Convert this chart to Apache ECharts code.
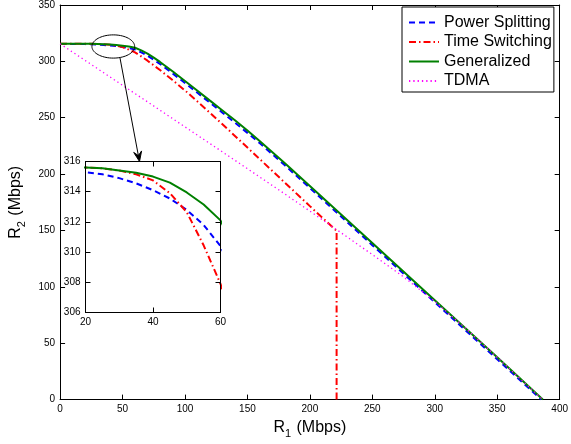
<!DOCTYPE html>
<html><head><meta charset="utf-8">
<script src="https://cdn.jsdelivr.net/npm/echarts@6/dist/echarts.min.js"></script>
<style>html,body{margin:0;padding:0;background:#fff}#c{width:571px;height:444px}</style>
</head><body><div id="c"></div>
<script>
// ---- data (R1, R2) in Mbps ----
const seriesNames = ['Power Splitting', 'Time Switching', 'Generalized', 'TDMA'];
const powerSplitting = [[0,315.5],[10,315.45],[20,315.3],[25,315.15],[30,314.9],[35,314.55],[40,314.1],[45,313.55],[50,312.8],[55,311.8],[60,310.4],[65,308.0],[70,305.0],[75,301.5],[80,297.7],[90,289.4],[100,280.8],[110,272.1],[120,263.3],[130,254.5],[140,245.6],[150,236.6],[160,227.3],[170,217.6],[180,207.8],[200,187.6],[250,137.0],[300,86.4],[350,35.8],[385.4,0]];
const timeSwitching = [[0,315.6],[10,315.6],[20,315.6],[25,315.55],[30,315.4],[35,315.15],[40,314.75],[45,313.9],[50,312.65],[55,310.45],[60,307.9],[65,304.4],[70,300.6],[80,292.3],[90,283.4],[100,274.2],[110,264.4],[120,254.4],[130,244.2],[140,233.9],[160,213.2],[180,192.4],[200,171.6],[221.4,149.6],[221.4,0]];
const generalized = [[0,315.6],[10,315.6],[20,315.6],[25,315.55],[30,315.4],[35,315.25],[40,315.0],[45,314.6],[50,313.95],[55,313.15],[60,312.1],[65,309.8],[70,306.8],[75,303.3],[80,299.5],[90,291.2],[100,282.6],[110,274.0],[120,265.2],[130,256.5],[140,247.8],[150,238.7],[160,229.2],[170,219.5],[180,209.6],[200,189.4],[250,138.8],[300,88.2],[350,37.6],[386.5,0]];
const tdma = [[0,315.6],[25,297.2],[50,278.8],[75,260.4],[100,241.9],[125,223.4],[150,204.8],[175,186.1],[200,167.2],[225,148.0],[250,128.6],[275,108.8],[300,87.2],[325,63.0],[350,37.5],[375,11.8],[386.5,0]];

// axis ranges
const mainX = {min: 0, max: 400, interval: 50};
const mainY = {min: 0, max: 350, interval: 50};
const insetX = {min: 20, max: 60, interval: 20};
const insetY = {min: 306, max: 316, interval: 2};

// zoom annotation (data units of main axes / inset axes)
const zoomCenter = [42.6, 313.2];
const zoomRadius = [17.1, 10.3];
const arrowTarget = [36, 316];

const FONT = 'Liberation Sans, Arial, sans-serif';
const colors = ['#0000ff', '#ff0000', '#008000', '#ff00ff'];
const lineStyles = [
  {width: 2, type: [6, 4]},
  {width: 2, type: [7, 3, 1.5, 3]},
  {width: 2, type: 'solid'},
  {width: 1.3, type: [1.3, 3]}
];
const dataSets = [powerSplitting, timeSwitching, generalized, tdma];

const chart = echarts.init(document.getElementById('c'), null, {renderer: 'canvas'});

function axisBase(range, grid, pos, showLabel, z) {
  return {
    type: 'value', gridIndex: grid, position: pos, z: z,
    min: range.min, max: range.max, interval: range.interval,
    axisLine: {show: true, onZero: false, lineStyle: {color: '#000', width: 1, opacity: 1}},
    axisTick: {show: true, inside: true, length: 5, lineStyle: {color: '#000', width: 1}},
    axisLabel: {show: showLabel, color: '#000', fontSize: 10, fontFamily: FONT, margin: 5},
    splitLine: {show: false}
  };
}

const nameRich = {rich: {a: {fontSize: 16, fontFamily: FONT, color: '#000'}, s: {fontSize: 11, fontFamily: FONT, color: '#000', padding: [12, 1, 0, 0]}}};
const xAxes = [
  Object.assign(axisBase(mainX, 0, 'bottom', true, 1), {
    name: '{a|R}{s|1}{a| (Mbps)}', nameLocation: 'middle', nameGap: 13, nameTextStyle: nameRich
  }),
  axisBase(mainX, 0, 'top', false, 1),
  axisBase(insetX, 1, 'bottom', true, 8),
  axisBase(insetX, 1, 'top', false, 8)
];
const yAxes = [
  Object.assign(axisBase(mainY, 0, 'left', true, 1), {
    name: '{a|R}{s|2}{a| (Mbps)}', nameLocation: 'middle', nameGap: 31, nameTextStyle: nameRich
  }),
  axisBase(mainY, 0, 'right', false, 1),
  axisBase(insetY, 1, 'left', true, 8),
  axisBase(insetY, 1, 'right', false, 8)
];

const series = [];
dataSets.forEach((d, i) => {
  series.push({name: seriesNames[i], type: 'line', xAxisIndex: 0, yAxisIndex: 0, data: d,
    showSymbol: false, symbol: 'none', smooth: false, clip: true,
    lineStyle: Object.assign({color: colors[i]}, lineStyles[i]), itemStyle: {color: colors[i]}, z: 3, animation: false});
});
[0, 1, 2].forEach(i => {
  series.push({name: seriesNames[i], type: 'line', xAxisIndex: 2, yAxisIndex: 2, data: dataSets[i],
    showSymbol: false, symbol: 'none', smooth: false, clip: true,
    lineStyle: Object.assign({color: colors[i]}, lineStyles[i]), itemStyle: {color: colors[i]}, z: 6, animation: false});
});

chart.setOption({
  animation: false,
  backgroundColor: '#fff',
  grid: [
    {left: 55.5, top: 2.5, right: 7.5, bottom: 41.5, containLabel: false},
    {left: 85.5, top: 161.5, width: 135, height: 151, show: true, backgroundColor: '#fff', borderWidth: 0, z: 4}
  ],
  xAxis: xAxes,
  yAxis: yAxes,
  legend: {
    data: seriesNames, orient: 'vertical', left: 402, top: 7,
    padding: [7.5, 2, 3, 6], itemGap: 3.5, itemWidth: 30, itemHeight: 14,
    backgroundColor: '#fff', borderColor: '#000', borderWidth: 1,
    itemStyle: {opacity: 0},
    textStyle: {fontSize: 16, lineHeight: 16, fontFamily: FONT, color: '#000'},
    selectedMode: false, z: 10
  },
  series: series
});

// annotation: ellipse + arrow
function px(p, idx) { return chart.convertToPixel({xAxisIndex: idx, yAxisIndex: idx}, p); }
const c = px(zoomCenter, 0);
const e = px([zoomCenter[0] + zoomRadius[0], zoomCenter[1] + zoomRadius[1]], 0);
const rx = Math.abs(e[0] - c[0]), ry = Math.abs(e[1] - c[1]);
const pts = [];
for (let k = 0; k <= 72; k++) {
  const t = k / 72 * Math.PI * 2;
  pts.push([c[0] + rx * Math.cos(t), c[1] + ry * Math.sin(t)]);
}
const start = [c[0] + rx * 0.31, c[1] + ry * 0.95];
const tip = px(arrowTarget, 2);
const ang = Math.atan2(tip[1] - start[1], tip[0] - start[0]);
const L = 10, W = 4;
const back = [tip[0] - L * Math.cos(ang), tip[1] - L * Math.sin(ang)];
const notch = [tip[0] - 0.6 * L * Math.cos(ang), tip[1] - 0.6 * L * Math.sin(ang)];
const nx = -Math.sin(ang), ny = Math.cos(ang);
chart.setOption({
  graphic: [
    {type: 'polyline', shape: {points: pts}, style: {stroke: '#000', lineWidth: 1, fill: null}, z: 20, silent: true},
    {type: 'line', shape: {x1: start[0], y1: start[1], x2: notch[0], y2: notch[1]}, style: {stroke: '#000', lineWidth: 1}, z: 20, silent: true},
    {type: 'polygon', shape: {points: [tip, [back[0] + nx * W, back[1] + ny * W], notch, [back[0] - nx * W, back[1] - ny * W]]}, style: {fill: '#000', stroke: '#000', lineWidth: 1}, z: 20, silent: true}
  ]
});
</script>
</body></html>
